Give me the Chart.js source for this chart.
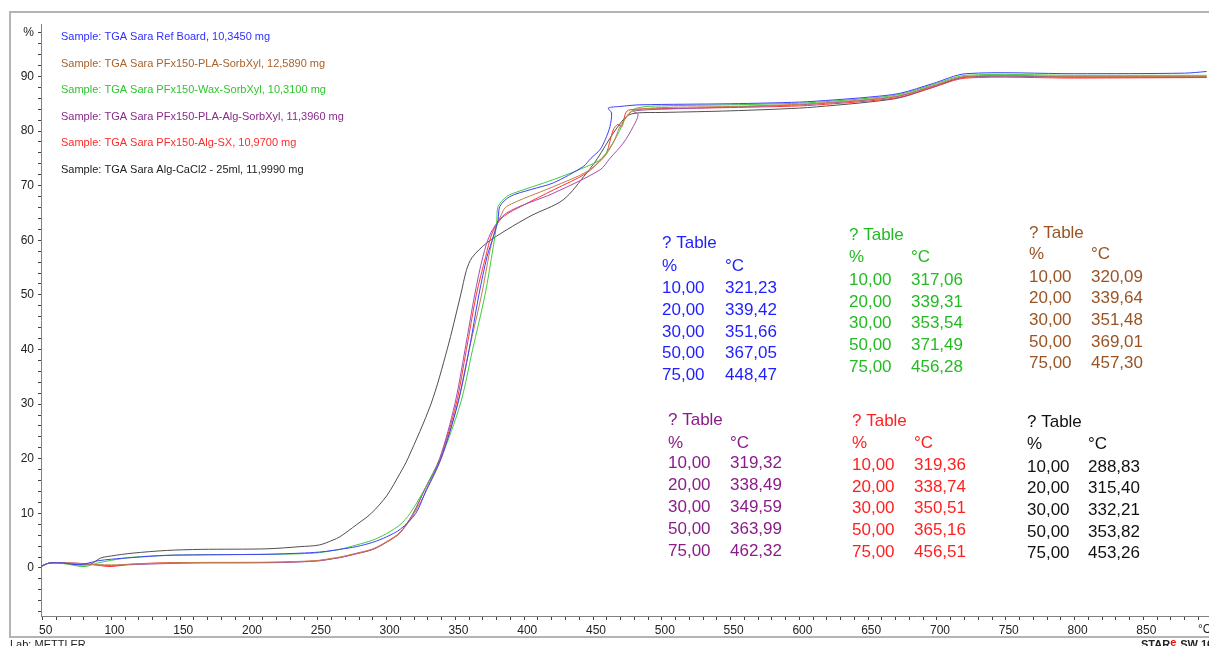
<!DOCTYPE html>
<html lang="en">
<head>
  <meta charset="UTF-8">
  <title>TGA</title>
  <script src="https://cdn.jsdelivr.net/npm/chart.js"></script>
  <style>
    body { margin: 0; background: #fff; }
    #chart { display: block; }
  </style>
</head>
<body>
  <canvas id="chart" width="1209" height="646"></canvas>

  <script>
    // Temperatur (°C) och massförlust (%) per prov
    const tempBlue = [48.8, 55, 65, 77, 90, 100, 115, 140, 165, 213, 237, 251, 261, 266, 278, 290, 300, 310, 321.23, 329, 339.42, 351.66, 360, 367.05, 373, 378, 381, 382.3, 389.6, 405, 421.1, 442.9, 448.47, 455.1, 459, 462.3, 463.5, 461.1, 469.6, 484.1, 550, 600, 625, 650, 673, 697, 721, 800, 880, 896];
    const massBlue = [0.3, 0.9, 0.9, 0.6, 1.3, 1.6, 1.9, 2.3, 2.4, 2.5, 2.7, 2.9, 3.2, 3.4, 3.9, 4.7, 5.7, 7.1, 10, 14.4, 20, 30, 40, 50, 57, 61, 63.7, 66.2, 68, 69.3, 70.5, 73.5, 75, 76.6, 78.5, 80.8, 83.3, 84.2, 84.5, 84.8, 85.0, 85.3, 85.7, 86.2, 86.9, 88.7, 90.5, 90.5, 90.6, 90.9];

    const tempBrown = [48.8, 55, 65, 77, 90, 100, 115, 140, 165, 213, 237, 251, 261, 266, 278, 290, 300, 310, 320.09, 329, 339.64, 351.48, 360, 369.01, 375, 379, 383, 387.2, 421.1, 445, 457.3, 465, 469.6, 476.8, 481.7, 500, 550, 600, 625, 650, 673, 697, 721, 800, 896];
    const massBrown = [0.3, 0.9, 0.9, 0.8, 0.6, 0.55, 0.7, 0.9, 1.0, 1.05, 1.2, 1.4, 1.8, 2.0, 2.7, 3.5, 4.8, 6.5, 10, 14.2, 20, 30, 40, 50, 58, 62, 64.5, 66.2, 69.8, 72.5, 75, 78, 80.8, 83.3, 83.9, 84.3, 84.5, 84.9, 85.3, 85.8, 86.5, 88.3, 90.0, 90.0, 90.0];

    const tempGreen = [48.8, 55, 65, 80, 90, 100, 115, 140, 165, 213, 237, 251, 261, 266, 278, 290, 300, 309.7, 317.06, 328, 339.31, 353.54, 362.5, 371.49, 377.5, 380, 381, 387.2, 392, 421.1, 445.3, 456.28, 467.2, 474.4, 481.7, 500, 550, 600, 625, 650, 673, 697, 721, 800, 896];
    const massGreen = [0.2, 0.9, 0.8, 0.25, 0.9, 1.4, 1.95, 2.3, 2.4, 2.5, 2.6, 2.8, 3.2, 3.4, 4.2, 5.1, 6.3, 7.9, 10, 14.6, 20, 30, 40, 50, 58.8, 63.1, 66.2, 68, 68.6, 71.1, 73.5, 75, 79, 82.7, 84.2, 84.6, 84.8, 85.1, 85.5, 86.0, 86.7, 88.5, 90.2, 90.2, 90.2];

    const tempPurple = [48.8, 55, 65, 77, 90, 100, 115, 140, 165, 213, 237, 251, 261, 266, 278, 290, 300, 309.7, 319.32, 328, 338.49, 349.59, 357, 363.99, 370, 376, 387.2, 421.1, 455.1, 462.32, 472, 479.2, 482.8, 479.5, 490, 500, 550, 600, 625, 650, 673, 697, 721, 800, 896];
    const massPurple = [0.3, 0.9, 0.9, 0.8, 0.55, 0.45, 0.6, 0.8, 0.9, 0.95, 1.1, 1.3, 1.7, 1.9, 2.6, 3.4, 4.8, 6.5, 10, 14.6, 20, 30, 40, 50, 57, 61.5, 65, 68.6, 72.9, 75, 77.8, 80.8, 83, 83.6, 83.9, 84.0, 84.4, 84.8, 85.2, 85.7, 86.4, 88.2, 89.9, 89.9, 89.9];

    const tempRed = [48.8, 55, 65, 77, 90, 99, 115, 140, 165, 213, 237, 251, 261, 266, 278, 290, 300, 309.7, 319.36, 328, 338.74, 350.51, 358, 365.16, 372, 377, 384.7, 400, 421.1, 445.3, 456.51, 459.9, 464.7, 468, 471, 474.4, 481.7, 500, 550, 600, 625, 650, 673, 697, 721, 800, 896];
    const massRed = [0.3, 0.9, 0.9, 0.85, 0.5, 0.25, 0.7, 0.95, 1.0, 1.0, 1.15, 1.35, 1.7, 1.9, 2.6, 3.4, 4.7, 6.4, 10, 14.5, 20, 30, 40, 50, 57, 61.5, 64.3, 66.5, 69.2, 72.3, 75, 76, 80.2, 81.2, 80.8, 83.6, 84.0, 84.1, 84.3, 84.6, 85.0, 85.5, 86.2, 88.0, 89.7, 89.7, 89.8];

    const tempBlack = [48.8, 55, 65, 77, 85, 92, 100, 115, 140, 165, 213, 237, 251, 261, 266, 278, 288.83, 300, 309.7, 315.4, 332.21, 344, 353.82, 358, 362, 372.7, 387.2, 405, 428.3, 445.3, 453.26, 464.7, 474.4, 481.7, 500, 550, 600, 625, 650, 673, 697, 721, 800, 896];
    const massBlack = [0.3, 0.9, 0.9, 0.55, 0.7, 1.8, 2.2, 2.7, 3.2, 3.4, 3.5, 3.9, 4.2, 5.1, 5.7, 7.9, 10, 13.2, 17.3, 20, 30, 40, 50, 54.5, 56.8, 59.5, 61.9, 64.5, 67.4, 72.3, 75, 79.6, 82.7, 83.3, 83.4, 83.7, 84.2, 84.7, 85.3, 86.1, 88.0, 89.9, 89.9, 89.9];

    const sampleNames = [
      'Sample: TGA Sara Ref Board, 10,3450 mg',
      'Sample: TGA Sara PFx150-PLA-SorbXyl, 12,5890 mg',
      'Sample: TGA Sara PFx150-Wax-SorbXyl, 10,3100 mg',
      'Sample: TGA Sara PFx150-PLA-Alg-SorbXyl, 11,3960 mg',
      'Sample: TGA Sara PFx150-Alg-SX, 10,9700 mg',
      'Sample: TGA Sara Alg-CaCl2 - 25ml, 11,9990 mg'
    ];

    // Tabellerna: procentsteg och temperaturer
    const tablePercents = ['10,00', '20,00', '30,00', '50,00', '75,00'];
    const tableBlue   = ['321,23', '339,42', '351,66', '367,05', '448,47'];
    const tableGreen  = ['317,06', '339,31', '353,54', '371,49', '456,28'];
    const tableBrown  = ['320,09', '339,64', '351,48', '369,01', '457,30'];
    const tablePurple = ['319,32', '338,49', '349,59', '363,99', '462,32'];
    const tableRed    = ['319,36', '338,74', '350,51', '365,16', '456,51'];
    const tableBlack  = ['288,83', '315,40', '332,21', '353,82', '453,26'];

    const lineColors = ['#4040ff', '#c0804a', '#40cc40', '#a050b0', '#ff3535', '#505050'];
    const textColors = ['#3030ff', '#a8622c', '#2ec52e', '#8a2a8a', '#ff2a2a', '#222222'];
    const FONT = 'Tahoma, "Liberation Sans", Arial, sans-serif';

    function pts(t, m) { return t.map((x, i) => ({ x: x, y: m[i] })); }

    const series = [
      pts(tempBlue, massBlue), pts(tempBrown, massBrown), pts(tempGreen, massGreen),
      pts(tempPurple, massPurple), pts(tempRed, massRed), pts(tempBlack, massBlack)
    ];

    const datasets = series.map((d, i) => ({
      label: sampleNames[i],
      data: d,
      borderColor: lineColors[i],
      borderWidth: 1,
      pointRadius: 0,
      tension: 0.3,
      fill: false
    }));

    // tabeller: [temperaturer, färg, x kol1, x kol2, y rubrik, y huvud, y första rad, radavstånd]
    const tables = [
      [tableBlue,   '#1e1eff', 662, 725, 243, 266, 288.5, 21.7],
      [tableGreen,  '#22bb22', 849, 911, 235, 257, 280, 21.9],
      [tableBrown,  '#9a5424', 1029, 1091, 233, 254, 277, 21.7],
      [tablePurple, '#8a1c8a', 668, 730, 420, 443, 463.5, 22],
      [tableRed,    '#ff2020', 852, 914, 421, 443, 465, 21.9],
      [tableBlack,  '#111111', 1027, 1088, 422, 444, 467, 21.7]
    ];

    const decorPlugin = {
      id: 'decor',
      beforeDraw(chart) {
        const c = chart.ctx;
        c.save();
        c.fillStyle = '#fff';
        c.fillRect(0, 0, chart.width, chart.height);
        c.strokeStyle = '#b4b4b4';
        c.lineWidth = 2;
        c.strokeRect(10, 12, 1220, 625);
        c.restore();
      },
      afterDraw(chart) {
        const c = chart.ctx;
        c.save();
        c.textBaseline = 'middle';
        // legend
        c.font = '11px ' + FONT;
        sampleNames.forEach((s, i) => {
          c.fillStyle = textColors[i];
          c.fillText(s, 61, 37 + i * 26.6);
        });
        // tabeller
        c.font = '17px ' + FONT;
        tables.forEach(t => {
          const [vals, col, x1, x2, yT, yH, y0, dy] = t;
          c.fillStyle = col;
          c.fillText('? Table', x1, yT);
          c.fillText('%', x1, yH);
          c.fillText('°C', x2, yH);
          tablePercents.forEach((p, i) => {
            c.fillText(p, x1, y0 + i * dy);
            c.fillText(vals[i], x2, y0 + i * dy);
          });
        });
        // enhet x-axel
        c.font = '12px ' + FONT;
        c.fillStyle = '#222';
        c.fillText('°C', 1198, 630);
        // sidfot
        c.textBaseline = 'top';
        c.font = '11px ' + FONT;
        c.fillText('Lab: METTLER', 10, 639);
        c.font = 'bold 11px ' + FONT;
        c.fillText('STAR', 1141, 639);
        const w = c.measureText('STAR').width;
        c.fillStyle = '#e01010';
        c.fillText('e', 1141 + w, 637);
        c.fillStyle = '#222';
        c.fillText(' SW 16.00', 1148 + w, 639);
        c.restore();
      }
    };

    const xTicks = [];
    for (let v = 50; v <= 890; v += 10) xTicks.push(v);
    const yTicks = [];
    for (let v = -8; v <= 98; v += 2) yTicks.push(v);

    new Chart(document.getElementById('chart').getContext('2d'), {
      type: 'line',
      data: { datasets: datasets },
      plugins: [decorPlugin],
      options: {
        responsive: false,
        animation: false,
        layout: { padding: { top: 24, right: 0, left: 0, bottom: 0 } },
        plugins: { legend: { display: false }, tooltip: { enabled: false } },
        scales: {
          x: {
            type: 'linear',
            min: 48.8,
            max: 897.7,
            afterBuildTicks: s => { s.ticks = xTicks.map(v => ({ value: v })); },
            afterFit: s => { s.height = 30; },
            grid: { drawOnChartArea: false, tickLength: 4, color: '#444' },
            border: { color: '#808080', width: 1 },
            ticks: {
              autoSkip: false, maxRotation: 0, padding: 3, labelOffset: 3,
              color: '#222', font: { family: FONT, size: 12 },
              callback: v => (v % 50 === 0 ? String(v) : '')
            }
          },
          y: {
            type: 'linear',
            min: -8.8,
            max: 99.6,
            afterBuildTicks: s => { s.ticks = yTicks.map(v => ({ value: v })); },
            afterFit: s => { s.width = 41; },
            grid: { drawOnChartArea: false, tickLength: 3, color: '#444' },
            border: { color: '#808080', width: 1 },
            ticks: {
              autoSkip: false, padding: 4,
              color: '#222', font: { family: FONT, size: 12 },
              callback: v => (v === 98 ? '%' : (v % 10 === 0 ? String(v) : ''))
            }
          }
        }
      }
    });
  </script>
</body>
</html>
